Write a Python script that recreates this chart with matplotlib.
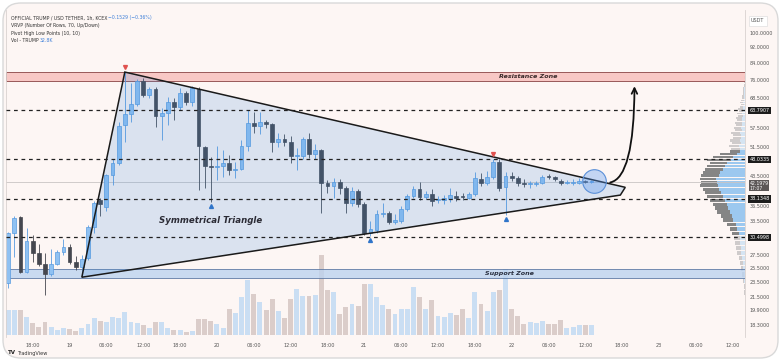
import matplotlib.pyplot as plt
import matplotlib.patches as mpatches
from matplotlib.transforms import IdentityTransform, offset_copy
from matplotlib.ticker import NullLocator
import numpy as np

# hourly candles, hour 0 = 19th 00:00
hours = list(range(-10, 86))
opens = [23.4, 31.3, 34.3, 24.9, 29.8, 27.8, 26.1, 24.6, 26.1, 28.0,
         28.8, 26.4, 25.7, 27.0, 32.4, 37.8, 36.4, 43.8, 47.0, 58.6,
         62.4, 66.2, 75.5, 69.7, 72.2, 61.7, 62.8, 67.0, 65.0, 70.5,
         67.0, 72.2, 51.5, 46.2, 45.9, 46.3, 47.0, 45.1, 45.4, 51.8,
         59.3, 58.3, 59.8, 58.8, 53.1, 54.0, 53.1, 48.9, 48.9, 54.0,
         49.5, 50.6, 41.8, 41.0, 42.0, 40.6, 37.2, 39.9, 37.0, 31.3,
         31.8, 34.9, 35.1, 33.3, 33.5, 35.9, 38.8, 40.3, 38.6, 39.3,
         37.9, 38.0, 38.2, 38.7, 38.8, 38.4, 39.2, 42.7, 41.8, 43.3,
         47.2, 40.8, 43.6, 43.0, 41.8, 41.5, 41.6, 41.8, 43.6, 43.2,
         42.4, 41.8, 41.9, 41.8, 42.3, 42.1]
highs = [31.5, 34.5, 34.5, 32.2, 30.9, 29.3, 27.8, 28.5, 28.3, 30.3,
         29.3, 27.3, 27.5, 32.8, 37.6, 38.3, 44.2, 48.0, 59.5, 79.7,
         74.8, 76.5, 77.0, 73.2, 73.0, 64.5, 68.9, 68.5, 72.6, 71.5,
         73.5, 73.0, 52.0, 48.6, 51.8, 50.6, 49.2, 47.2, 53.7, 63.9,
         63.2, 63.3, 60.5, 59.2, 55.8, 55.5, 55.0, 51.2, 54.8, 55.9,
         52.5, 51.0, 42.5, 43.0, 42.8, 41.0, 40.8, 40.5, 37.5, 33.5,
         35.7, 37.2, 35.5, 35.0, 36.5, 39.2, 41.0, 42.1, 40.0, 40.3,
         38.8, 39.0, 40.6, 40.0, 39.5, 39.7, 44.7, 44.4, 44.8, 48.0,
         48.0, 44.7, 44.5, 43.5, 42.8, 42.4, 42.4, 43.7, 44.0, 43.5,
         42.8, 42.5, 42.9, 43.0, 42.6, 42.6]
lows = [22.7, 27.2, 24.8, 24.8, 26.4, 25.8, 21.8, 24.4, 26.0, 27.5,
        26.2, 25.3, 24.2, 26.7, 31.3, 34.5, 35.5, 41.3, 46.5, 53.1,
        59.6, 65.5, 69.0, 68.5, 57.9, 53.7, 58.6, 60.3, 64.0, 66.0,
        65.5, 40.1, 40.6, 37.4, 42.5, 43.3, 43.8, 43.0, 45.0, 50.5,
        56.0, 55.5, 57.5, 50.1, 51.5, 52.0, 47.0, 45.1, 48.0, 48.3,
        48.0, 35.1, 39.5, 38.3, 39.3, 35.1, 36.5, 36.4, 30.9, 30.7,
        31.2, 34.3, 33.0, 33.0, 33.2, 35.5, 38.3, 38.0, 38.2, 36.5,
        37.3, 37.0, 37.5, 37.7, 38.0, 38.2, 38.8, 41.0, 41.3, 42.8,
        40.0, 34.7, 42.3, 41.0, 40.9, 40.6, 41.0, 41.5, 42.9, 42.3,
        41.3, 41.6, 41.3, 41.5, 41.8, 41.9]
closes = [31.3, 34.1, 24.9, 29.8, 27.8, 26.1, 24.6, 26.1, 28.0, 28.8,
          26.4, 25.7, 26.9, 32.4, 37.2, 37.0, 43.8, 47.0, 58.2, 62.4,
          66.2, 75.8, 69.7, 72.2, 61.7, 62.8, 67.0, 65.0, 70.5, 67.0,
          72.6, 51.8, 46.2, 45.9, 46.3, 47.0, 45.1, 45.4, 51.8, 59.3,
          58.3, 59.8, 58.8, 53.1, 54.0, 53.1, 48.9, 49.2, 54.0, 49.5,
          50.6, 41.8, 41.0, 42.0, 40.6, 37.2, 39.9, 37.0, 31.3, 32.0,
          34.9, 35.1, 33.3, 33.7, 35.9, 38.8, 40.4, 38.6, 39.3, 37.7,
          38.2, 38.4, 39.0, 38.4, 38.5, 39.2, 43.0, 41.8, 43.3, 47.2,
          40.6, 43.6, 43.0, 41.8, 41.6, 41.8, 41.9, 43.3, 43.3, 42.8,
          41.8, 42.0, 42.1, 42.4, 42.1, 42.3]
volumes = [85, 86, 84, 62, 40, 28, 43, 26, 16, 23,
           19, 12, 25, 37, 59, 49, 44, 62, 59, 78,
           44, 42, 33, 24, 44, 44, 24, 16, 16, 10,
           14, 54, 54, 47, 37, 23, 90, 76, 130, 186,
           139, 113, 85, 124, 82, 59, 123, 158, 133, 133,
           136, 271, 153, 147, 70, 94, 104, 98, 175, 173,
           128, 102, 89, 71, 88, 90, 162, 130, 90, 121,
           66, 62, 76, 68, 87, 57, 145, 105, 82, 147,
           155, 226, 90, 66, 37, 45, 42, 47, 37, 37,
           51, 25, 28, 33, 33, 33]  # K

# VRVP rows (70, bottom to top), relative volume
profile_total = [1, 1, 2, 3, 4, 5, 6, 8, 9, 10,
                 11, 13, 15, 18, 22, 24, 28, 30, 32, 35,
                 38, 40, 42, 45, 44, 45, 44, 42, 40, 38,
                 35, 38, 32, 25, 15, 14, 16, 13, 15, 12,
                 12, 14, 10, 11, 9, 10, 8, 9, 7, 8,
                 6, 7, 5, 4, 5, 4, 3, 3, 2, 2,
                 2, 2, 1, 1, 1, 1, 1, 1, 0.5, 0.5]
profile_up = [0.5, 0.5, 1, 1.5, 2, 2.5, 3, 4, 4, 5,
              5, 6, 8, 9, 12, 13, 15, 17, 18, 20,
              22, 24, 26, 27, 28, 29, 26, 25, 22, 20,
              18, 14, 12, 8, 5, 5, 6, 4, 5, 4,
              4, 5, 3, 4, 3, 3, 3, 3, 2, 3,
              2, 2, 2, 1, 2, 1, 1, 1, 1, 1,
              1, 1, 0.5, 0.5, 0.5, 0.5, 0.5, 0.5, 0.2, 0.2]
value_area = (30.9, 50.6)

tick_hours = [-6, 0, 6, 12, 18, 24, 30, 36, 42, 48, 54, 60, 66, 72, 78, 84, 90, 96, 102, 108]
tick_labels = ["18:00", "19", "06:00", "12:00", "18:00", "20", "06:00", "12:00", "18:00", "21",
               "06:00", "12:00", "18:00", "22", "06:00", "12:00", "18:00", "23", "06:00", "12:00"]

price_labels = [100.0, 92.0, 84.0, 76.0, 68.5, 57.5, 51.5, 43.5, 36.5, 33.5, 27.5, 25.5, 23.5, 21.5, 19.9, 18.3]
key_levels = [63.7907, 48.0335, 38.1348, 30.4998]
last_price = 42.1979
resistance = (75.6, 79.7)
support = (24.1, 25.4)
triangle = [(2, 24.2), (9, 79.7), (90.5, 40.8), (89.7, 39.0)]
pivot_high_idx = [19, 79]
pivot_low_idx = [33, 59, 81]

UP = "#8fc1f2"
UP_EDGE = "#5a9ce0"
DOWN = "#45474f"
BG = "#fdf6f4"

W, H = 781, 361
fig = plt.figure(figsize=(W / 100, H / 100), dpi=100)
fig.patch.set_facecolor("white")
fig.patches.append(mpatches.FancyBboxPatch((3, 3), W - 6, H - 6,
                   boxstyle="round,pad=0,rounding_size=18", transform=IdentityTransform(),
                   fc=BG, ec="#d9d9d9", lw=1.0, zorder=-10))

x0, x1, ytop, ybot = 6, 745, 10, 337
pos = [x0 / W, 1 - ybot / H, (x1 - x0) / W, (ybot - ytop) / H]

# volume pane
axv = fig.add_axes(pos, zorder=1)
axv.patch.set_visible(False)
up = [c >= o for o, c in zip(opens, closes)]
vcol = ["#cadef3" if u else "#dbcdca" for u in up]
axv.bar(hours, volumes, width=0.8, color=vcol, zorder=1)
vtop = max(volumes) * (ybot - ytop) / 80
axv.set_ylim(-vtop * 2 / (ybot - ytop), vtop)
axv.set_xlim(-10.35, 110)
axv.axis("off")

# price pane
ax = fig.add_axes(pos, sharex=axv, zorder=3)
ax.patch.set_visible(False)
ax.set_yscale("log")
ax.set_ylim(17.1, 114.3)
ax.yaxis.set_major_locator(NullLocator())
ax.yaxis.set_minor_locator(NullLocator())
for s in ["top", "bottom"]:
    ax.spines[s].set_visible(False)
for s in ["left", "right"]:
    ax.spines[s].set_color("#d8d2d0")
    ax.spines[s].set_linewidth(0.6)
ax.set_xticks(tick_hours)
ax.set_xticklabels(tick_labels, fontsize=3.6, color="#555555")
ax.tick_params(axis="x", length=0, pad=4)

# volume profile (VRVP, 70 rows, up/down)
edges = np.linspace(min(lows), max(highs), 71)
p_up = np.array(profile_up)
p_dn = np.array(profile_total) - p_up
axp = fig.add_axes(pos, sharey=ax, zorder=2)
axp.patch.set_visible(False)
axp.axis("off")
mid = (edges[1:] + edges[:-1]) / 2
inva = (mid >= value_area[0]) & (mid <= value_area[1])
rh = np.diff(edges) * 0.8
axp.barh(edges[:-1], p_up, height=rh, align="edge",
         color=np.where(inva, "#9cc8ef", "#d5e4f2"))
axp.barh(edges[:-1], p_dn, left=p_up, height=rh, align="edge",
         color=np.where(inva, "#858585", "#cfcbcb"))
axp.set_xlim(x1 - x0, 0)

# zones
ax.axhspan(*resistance, fc="#f8c3c0", ec="#8e4a4a", lw=0.7, alpha=0.9, zorder=1)
ax.axhspan(*support, fc="#bcd3ef", ec="#55729f", lw=0.7, alpha=0.8, zorder=1)
ax.text(74.7, 77.6, "Resistance Zone", fontsize=4.6, style="italic", weight="bold",
        color="#3a2a2a", ha="center", va="center", zorder=6)
ax.text(71.7, 24.75, "Support Zone", fontsize=4.6, style="italic", weight="bold",
        color="#2a3040", ha="center", va="center", zorder=6)

for lv in key_levels:
    ax.axhline(lv, color="#222222", lw=0.9, ls=(0, (3, 3)), zorder=4)
ax.axhline(last_price, color="#c9c4c4", lw=0.6, zorder=1)

# candles
for t, o, h, l, c in zip(hours, opens, highs, lows, closes):
    isup = c >= o
    col = UP if isup else DOWN
    ec = UP_EDGE if isup else DOWN
    ax.vlines(t, l, h, color=ec, lw=0.6, zorder=2)
    ax.bar(t, abs(c - o), bottom=min(o, c), width=0.62, color=col, ec=ec, lw=0.5, zorder=2)

# triangle
ax.add_patch(mpatches.Polygon(triangle, closed=True, fc="#3c8cdc", alpha=0.18, ec="none", zorder=3))
ax.add_patch(mpatches.Polygon(triangle, closed=True, fill=False, ec="#1a1a1a", lw=1.1, zorder=5))
ax.text(23, 33.6, "Symmetrical Triangle", fontsize=6.2, style="italic", weight="bold",
        color="#2b2b35", ha="center", va="center", zorder=6)

# pivots
hi_tr = offset_copy(ax.transData, fig=fig, y=3.5, units="points")
lo_tr = offset_copy(ax.transData, fig=fig, y=-3.0, units="points")
ax.plot([hours[i] for i in pivot_high_idx], [highs[i] for i in pivot_high_idx], "v",
        color="#e0524f", ms=2.8, transform=hi_tr, zorder=6)
ax.plot([hours[i] for i in pivot_low_idx], [lows[i] for i in pivot_low_idx], "^",
        color="#2f74c9", ms=2.8, transform=lo_tr, zorder=6)

# breakout circle and arrow
ax.plot(hours[-1] + 0.4, closes[-1], "o", ms=17, mfc=(0.35, 0.6, 0.95, 0.35),
        mec="#5a8fd8", mew=0.8, zorder=6)
ax.annotate("", xy=(92, 74.6), xytext=(87.6, 41.9),
            arrowprops=dict(arrowstyle="->", color="#111111", lw=1.3, mutation_scale=10,
                            connectionstyle="angle3,angleA=0,angleB=90"), zorder=7)

# price scale
yt = ax.get_yaxis_transform()
for p in price_labels:
    ax.text(1.006, p, f"{p:.4f}", transform=yt, fontsize=3.5, color="#555555",
            va="center", ha="left", clip_on=False)
for p in key_levels:
    ax.text(1.006, p, f"{p:.4f}", transform=yt, fontsize=3.5, color="white",
            va="center", ha="left", clip_on=False,
            bbox=dict(boxstyle="square,pad=0.25", fc="#1c1c1c", ec="none"))
ax.text(1.006, last_price, f"{last_price:.4f}\n17:07", fontsize=3.3,
        transform=offset_copy(yt, fig=fig, y=-4, units="dots"),
        color="white", va="center", ha="left", clip_on=False, linespacing=1.0, zorder=8,
        bbox=dict(boxstyle="square,pad=0.15", fc="#5b5656", ec="none"))
fig.text(751 / W, 1 - 21 / H, "USDT", fontsize=3.5, color="#555555", va="center",
         bbox=dict(boxstyle="square,pad=0.5", fc="white", ec="#e0e0e0", lw=0.5))

# header
hx = 11 / W
fig.text(hx, 1 - 18 / H, "OFFICIAL TRUMP / USD TETHER, 1h, KCEX", fontsize=3.3, color="#333333", va="center")
fig.text(108 / W, 1 - 18 / H, "\u22120.1529 (\u22120.36%)", fontsize=3.3, color="#3d7fd9", va="center")
fig.text(hx, 1 - 25.5 / H, "VRVP (Number Of Rows, 70, Up/Down)", fontsize=3.3, color="#333333", va="center")
fig.text(hx, 1 - 33 / H, "Pivot High Low Points (10, 10)", fontsize=3.3, color="#333333", va="center")
fig.text(hx, 1 - 40.5 / H, "Vol - TRUMP", fontsize=3.3, color="#333333", va="center")
fig.text(40 / W, 1 - 40.5 / H, "32.8K", fontsize=3.3, color="#3d7fd9", va="center")

fig.text(8 / W, 1 - 353 / H, "TV", fontsize=4, weight="bold", color="#222222", va="center")
fig.text(17 / W, 1 - 353 / H, "TradingView", fontsize=3.6, color="#333333", va="center")

fig.savefig("out.png", dpi=100, facecolor="white")
